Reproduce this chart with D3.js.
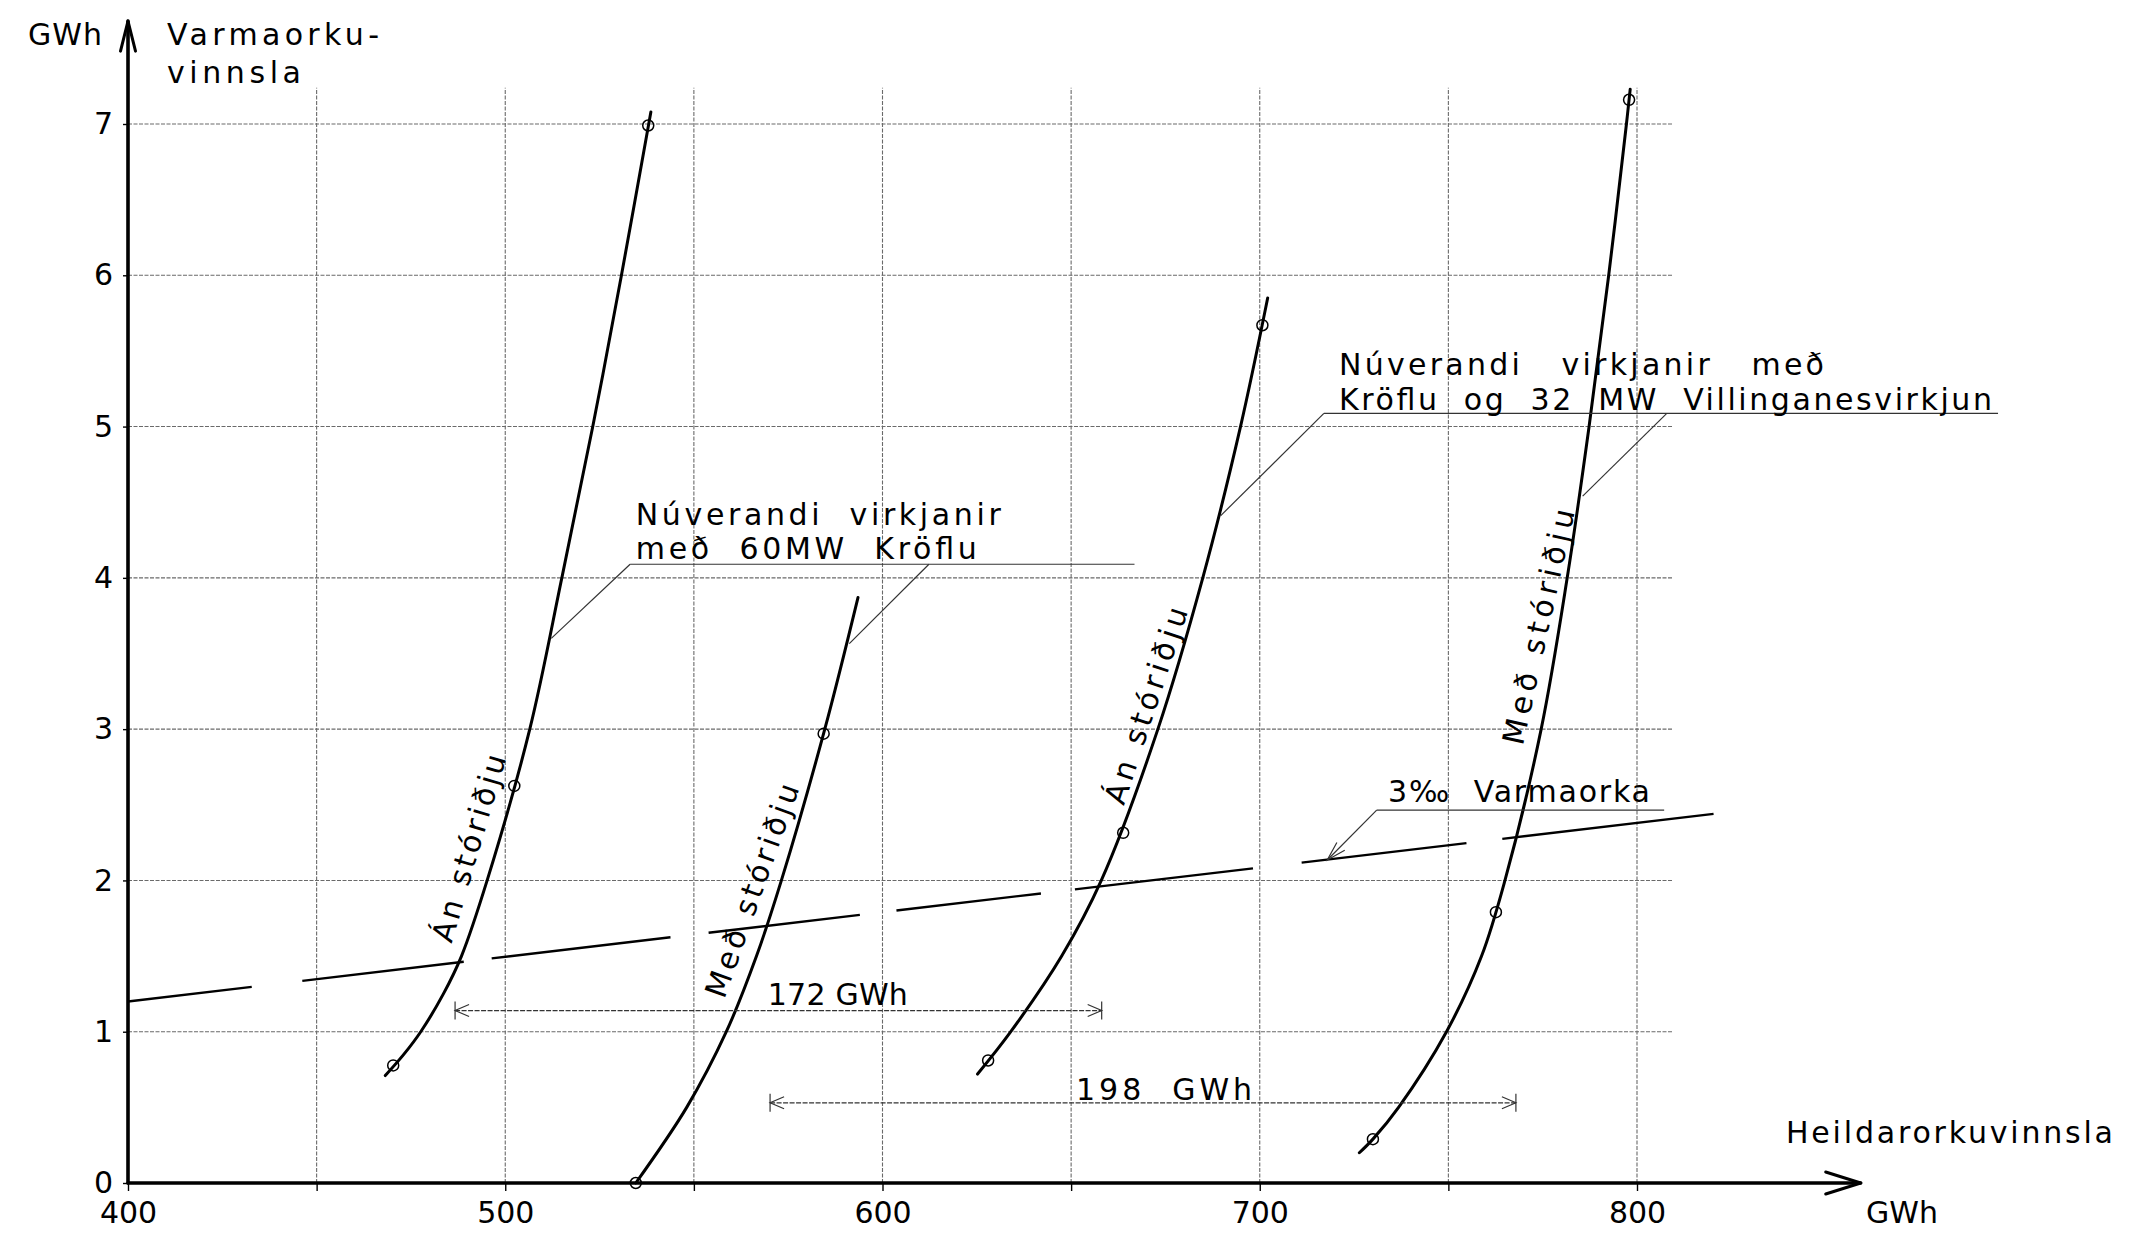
<!DOCTYPE html>
<html><head><meta charset="utf-8">
<script src="https://cdn.jsdelivr.net/npm/d3@7"></script>
<style>
html,body{margin:0;padding:0;background:#fff;}
svg{display:block;background:#fff;}
text{font-family:"DejaVu Sans","Liberation Sans",sans-serif;font-weight:normal;fill:#000;white-space:pre;}
.tick text{font-size:30px;}
</style></head><body>
<svg id="chart" width="2133" height="1238"></svg>
<script>
// ---------------- DATA ----------------
const xTicks = [400,450,500,550,600,650,700,750,800];
const xTickLabels = ["400","","500","","600","","700","","800"];
const yTicks = [0,1,2,3,4,5,6,7];
const yTickLabels = ["0","1","2","3","4","5","6","7"];

// [Heildarorkuvinnsla GWh, Varmaorkuvinnsla GWh]
const curveAn60 = [[468.2,0.71],[473.1,0.85],[477.6,1.0],[483.6,1.25],[488.4,1.5],[495.2,2.0],[506.5,3.0],[515.0,4.0],[523.2,5.0],[530.8,6.0],[538.6,7.08]];
const curveMed60 = [[534.6,0.0],[548.1,0.5],[558.6,1.0],[566.6,1.5],[573.2,2.0],[584.7,3.0],[593.5,3.87]];
const curveAn32 = [[625.2,0.72],[634.0,1.0],[647.5,1.5],[658.0,2.0],[673.0,3.0],[684.9,4.0],[694.9,5.0],[702.1,5.85]];
const curveMed32 = [[726.4,0.2],[730.0,0.29],[736.8,0.5],[749.5,1.0],[758.8,1.5],[765.0,2.0],[774.6,3.0],[781.5,4.0],[787.3,5.0],[792.5,6.0],[797.2,7.0],[798.2,7.23]];

const markersAn60 = [[470.3,0.777],[502.4,2.625],[537.9,6.99]];
const markersMed60 = [[534.6,0.0],[584.4,2.97]];
const markersAn32 = [[628.0,0.81],[663.8,2.315],[700.7,5.67]];
const markersMed32 = [[730.0,0.29],[762.6,1.79],[797.9,7.16]];

// 3 promille line: end points, and drawn dash pieces (x ranges)
const varmaorkaEnds = [[400,1.2],[820.3,2.44]];
const varmaorkaPieces = [[400,432.8],[446.2,489],[496.4,543.8],[553.9,594],[603.7,642],[651,698.2],[711.1,754.8],[764.3,820.3]];

// dimension arrows: [from, to, level]
const dim172 = [486.7,658.1,1.14];
const dim198 = [570.2,767.9,0.53];
const dimLabels = ["172 GWh","198  GWh"];

// ---------------- CHART ----------------
const svg = d3.select("#chart");
const x = d3.scaleLinear().domain([400,800]).range([128,1637]);
const y = d3.scaleLinear().domain([0,7]).range([1183,124]);

const gridTop = 7.24, gridRight = 809.5, xAxisEnd = 859.3, yAxisEnd = 7.68;

// grid
const grid = svg.append("g").attr("stroke","#6a6a6a").attr("stroke-width",1.1).attr("stroke-dasharray","4,1.5");
grid.selectAll("line.v").data(xTicks.filter(d=>d>400)).join("line").attr("class","v")
  .attr("x1",d=>x(d)).attr("x2",d=>x(d)).attr("y1",y(0)).attr("y2",y(gridTop));
grid.selectAll("line.h").data(yTicks.filter(d=>d>0)).join("line").attr("class","h")
  .attr("x1",x(400)).attr("x2",x(gridRight)).attr("y1",d=>y(d)).attr("y2",d=>y(d));

// axes
const gx = svg.append("g").attr("transform",`translate(0,${y(0)})`)
  .call(d3.axisBottom(x).tickValues(xTicks).tickSize(8).tickPadding(11).tickFormat((d,i)=>xTickLabels[i]));
gx.select(".domain").remove();
gx.selectAll(".tick line").attr("stroke","#000").attr("stroke-width",1.4);
const gy = svg.append("g").attr("transform",`translate(${x(400)},0)`)
  .call(d3.axisLeft(y).tickValues(yTicks).tickSize(5).tickPadding(10).tickFormat((d,i)=>yTickLabels[i]));
gy.select(".domain").remove();
gy.selectAll(".tick line").attr("stroke","#000").attr("stroke-width",1.4);

const axisG = svg.append("g").attr("stroke","#000").attr("fill","none").attr("stroke-linecap","round").attr("stroke-linejoin","round");
axisG.append("line").attr("x1",x(400)).attr("x2",x(xAxisEnd)).attr("y1",y(0)).attr("y2",y(0)).attr("stroke-width",3.6);
axisG.append("line").attr("x1",x(400)).attr("x2",x(400)).attr("y1",y(0)).attr("y2",y(yAxisEnd)).attr("stroke-width",3.6);
axisG.append("path").attr("stroke-width",3)
  .attr("d",`M${x(xAxisEnd)-35},${y(0)-11} L${x(xAxisEnd)},${y(0)} L${x(xAxisEnd)-35},${y(0)+11}`);
axisG.append("path").attr("stroke-width",3)
  .attr("d",`M${x(400)-7.5},${y(yAxisEnd)+30} L${x(400)},${y(yAxisEnd)} L${x(400)+7.5},${y(yAxisEnd)+30}`);

// axis titles
const txt = (s,px,py,len,fs=30)=>{
  const t = svg.append("text").attr("x",px).attr("y",py).attr("font-size",fs).text(s);
  if(len) t.attr("textLength",len).attr("lengthAdjust","spacing");
  return t;
};
txt("GWh",28,45,74);
txt("Varmaorku-",167,45,212);
txt("vinnsla",167,83,134);
txt("Heildarorkuvinnsla",1786,1143,327);
txt("GWh",1866,1223,72);

// 3 promille line
const vm = d3.scaleLinear().domain([varmaorkaEnds[0][0],varmaorkaEnds[1][0]]).range([varmaorkaEnds[0][1],varmaorkaEnds[1][1]]);
svg.append("g").attr("stroke","#000").attr("stroke-width",2.4)
  .selectAll("line").data(varmaorkaPieces).join("line")
  .attr("x1",d=>x(d[0])).attr("x2",d=>x(d[1])).attr("y1",d=>y(vm(d[0]))).attr("y2",d=>y(vm(d[1])));

// curves
const line = d3.line().x(d=>x(d[0])).y(d=>y(d[1])).curve(d3.curveCatmullRom.alpha(0.5));
const curves = [curveAn60,curveMed60,curveAn32,curveMed32];
svg.append("g").attr("fill","none").attr("stroke","#000").attr("stroke-width",3).attr("stroke-linecap","round")
  .selectAll("path").data(curves).join("path").attr("d",line);

// markers
const markers = [].concat(markersAn60,markersMed60,markersAn32,markersMed32);
svg.append("g").attr("fill","none").attr("stroke","#000").attr("stroke-width",1.5)
  .selectAll("circle").data(markers).join("circle")
  .attr("cx",d=>x(d[0])).attr("cy",d=>y(d[1])).attr("r",5.5);

// curve labels (baseline from start to end point)
const curveLabels = [
  {t:"Án stóriðju", s:[487,1.57], e:[501.6,2.80]},
  {t:"Með stóriðju", s:[559.3,1.2], e:[579.3,2.6]},
  {t:"Án stóriðju", s:[665.2,2.48], e:[682.3,3.77]},
  {t:"Með stóriðju", s:[771,2.88], e:[784.8,4.43]}
];
curveLabels.forEach(l=>{
  const x0=x(l.s[0]), y0=y(l.s[1]), x1=x(l.e[0]), y1=y(l.e[1]);
  const ang = Math.atan2(y1-y0,x1-x0)*180/Math.PI;
  const len = Math.hypot(x1-x0,y1-y0);
  svg.append("text").attr("transform",`translate(${x0},${y0}) rotate(${ang})`)
    .attr("y",-5).attr("font-size",30).attr("textLength",len).attr("lengthAdjust","spacing").text(l.t);
});

// annotations: underline + leaders
const thin = svg.append("g").attr("stroke","#333").attr("stroke-width",1.2).attr("fill","none");
const seg = (a,b)=>thin.append("line").attr("x1",x(a[0])).attr("y1",y(a[1])).attr("x2",x(b[0])).attr("y2",y(b[1]));

// A: 60MW Kröflu
seg([533.1,4.09],[666.8,4.09]);
seg([533.1,4.09],[512.2,3.6]);
seg([612.3,4.09],[591.2,3.565]);
txt("Núverandi  virkjanir", x(534.6), y(4.09)-39, 365);
txt("með  60MW  Kröflu", x(534.6), y(4.09)-5, 341);

// B: Kröflu og 32 MW Villinganesvirkjun
seg([717,5.087],[895.7,5.087]);
seg([717,5.087],[689.6,4.41]);
seg([807.9,5.087],[785.6,4.54]);
txt("Núverandi   virkjanir   með", x(721), y(5.087)-38, 485);
txt("Kröflu  og  32  MW  Villinganesvirkjun", x(721), y(5.087)-3, 653);

// C: 3 promille
seg([731,2.465],[807.2,2.465]);
seg([731,2.465],[717.9,2.135]);
{
  const tx=x(717.9), ty=y(2.135), ax=x(731)-tx, ay=y(2.465)-ty;
  const a=Math.atan2(ay,ax), L=20;
  thin.append("path").attr("d",`M${tx+L*Math.cos(a-0.28)},${ty+L*Math.sin(a-0.28)} L${tx},${ty} L${tx+L*Math.cos(a+0.28)},${ty+L*Math.sin(a+0.28)}`);
}
txt("3‰  Varmaorka", x(734), y(2.465)-8, 262);

// dimension lines
[dim172,dim198].forEach((d,i)=>{
  const xa=x(d[0]), xb=x(d[1]), yy=y(d[2]);
  const g = svg.append("g").attr("stroke","#333").attr("stroke-width",1.2).attr("fill","none");
  g.append("line").attr("x1",xa).attr("x2",xb).attr("y1",yy).attr("y2",yy).attr("stroke-dasharray","5,1.5");
  g.append("line").attr("x1",xa).attr("x2",xa).attr("y1",yy-9).attr("y2",yy+9);
  g.append("line").attr("x1",xb).attr("x2",xb).attr("y1",yy-9).attr("y2",yy+9);
  g.append("path").attr("d",`M${xa+14},${yy-6} L${xa},${yy} L${xa+14},${yy+6}`);
  g.append("path").attr("d",`M${xb-14},${yy-6} L${xb},${yy} L${xb-14},${yy+6}`);
});
txt(dimLabels[0], x(569.6), y(dim172[2])-6, 140);
txt(dimLabels[1], x(651.3), y(dim198[2])-3, 176);
</script>
</body></html>
